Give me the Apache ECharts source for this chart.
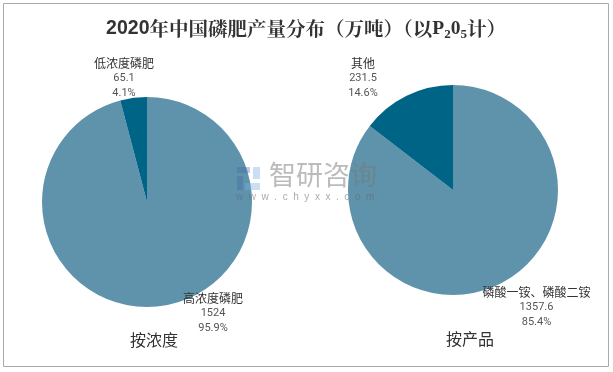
<!DOCTYPE html>
<html><head><meta charset="utf-8">
<style>html,body{margin:0;padding:0;background:#fff}#c{width:613px;height:372px}</style>
<script src="https://cdn.jsdelivr.net/npm/echarts@6/dist/echarts.min.js"></script>
</head><body><div id="c"></div>
<script>
const namesA = ['高浓度磷肥', '低浓度磷肥'];
const valuesA = [1524, 65.1];
const percentA = ['95.9%', '4.1%'];
const namesB = ['磷酸一铵、磷酸二铵', '其他'];
const valuesB = [1357.6, 231.5];
const percentB = ['85.4%', '14.6%'];
const colors = ['#5f93ab', '#006487'];
const captions = ['按浓度', '按产品'];
const cjk = '"Noto Sans CJK SC"';
const spotsA = [[213, 313], [124, 78]];
const spotsB = [[536.5, 307], [363, 78]];

function slices(names, values, percents) {
  return names.map((n, i) => ({
    name: n, value: values[i],
    itemStyle: { color: colors[i] },
    label: { formatter: '{n|' + n + '}\n{v|' + values[i] + '}\n{v|' + percents[i] + '}' }
  }));
}
const place = spots => p => ({ x: spots[p.dataIndex][0], y: spots[p.dataIndex][1], align: 'center', verticalAlign: 'middle' });
const labelBase = {
  show: true, position: 'inside', overflow: 'none',
  rich: {
    n: { fontFamily: cjk, fontSize: 12, color: '#333', lineHeight: 15, align: 'center' },
    v: { fontFamily: 'Roboto', fontSize: 11, color: '#555', lineHeight: 15, align: 'center' }
  }
};
const chart = echarts.init(document.getElementById('c'), null, { renderer: 'canvas' });
chart.setOption({
  animation: false,
  backgroundColor: '#fff',
  title: {
    left: 301, top: 11, textAlign: 'center',
    text: '{a|2020}{b|年中国磷肥产量分布（万吨）（以}{c|P}{s|2}{c|0}{s|5}{b|计）}',
    textStyle: {
      rich: {
        a: { fontFamily: 'Liberation Sans', fontWeight: 'bold', fontSize: 19.5, color: '#333' },
        b: { fontFamily: '"Noto Serif CJK SC",' + cjk, fontWeight: 'bold', fontSize: 19.5, color: '#333' },
        c: { fontFamily: 'Liberation Serif', fontWeight: 'bold', fontSize: 19.5, color: '#333' },
        s: { fontFamily: 'Liberation Serif', fontWeight: 'bold', fontSize: 13, color: '#333', verticalAlign: 'bottom', padding: [12, 0, 0, 0] }
      }
    }
  },
  series: [
    { type: 'pie', center: [147, 202], radius: 105, startAngle: 90, clockwise: true,
      labelLine: { show: false }, label: labelBase, emphasis: { disabled: true },
      labelLayout: place(spotsA), data: slices(namesA, valuesA, percentA) },
    { type: 'pie', center: [453, 190], radius: 105, startAngle: 90, clockwise: true,
      labelLine: { show: false }, label: labelBase, emphasis: { disabled: true },
      labelLayout: place(spotsB), data: slices(namesB, valuesB, percentB) }
  ],
  graphic: [
    { type: 'rect', silent: true, shape: { x: 3.5, y: 3.5, width: 605, height: 363 }, style: { fill: 'none', stroke: '#aaa', lineWidth: 1 } },
    { type: 'text', left: 130, top: 332, style: { text: captions[0], font: '16px ' + cjk, fill: '#333' } },
    { type: 'text', left: 446, top: 331, style: { text: captions[1], font: '16px ' + cjk, fill: '#333' } },
    { type: 'text', left: 269, top: 161, z: 10, style: { text: '智研咨询', font: '27px ' + cjk, fill: 'rgba(120,120,120,0.5)' } },
    { type: 'text', left: 236, top: 192, z: 10, style: { text: 'w  w  w  .  c  h  y  x  x  .  c  o  m', font: '10px "Liberation Sans"', fill: 'rgba(100,100,110,0.55)' } },
    { type: 'rect', z: 10, shape: { x: 237, y: 167, width: 13, height: 6 }, style: { fill: 'rgba(70,100,170,0.35)' } },
    { type: 'rect', z: 10, shape: { x: 237, y: 176, width: 6, height: 14 }, style: { fill: 'rgba(70,100,170,0.35)' } },
    { type: 'rect', z: 10, shape: { x: 253, y: 167, width: 7, height: 12 }, style: { fill: 'rgba(120,175,225,0.4)' } },
    { type: 'rect', z: 10, shape: { x: 245, y: 183, width: 15, height: 7 }, style: { fill: 'rgba(120,175,225,0.4)' } }
  ]
});
</script></body></html>
